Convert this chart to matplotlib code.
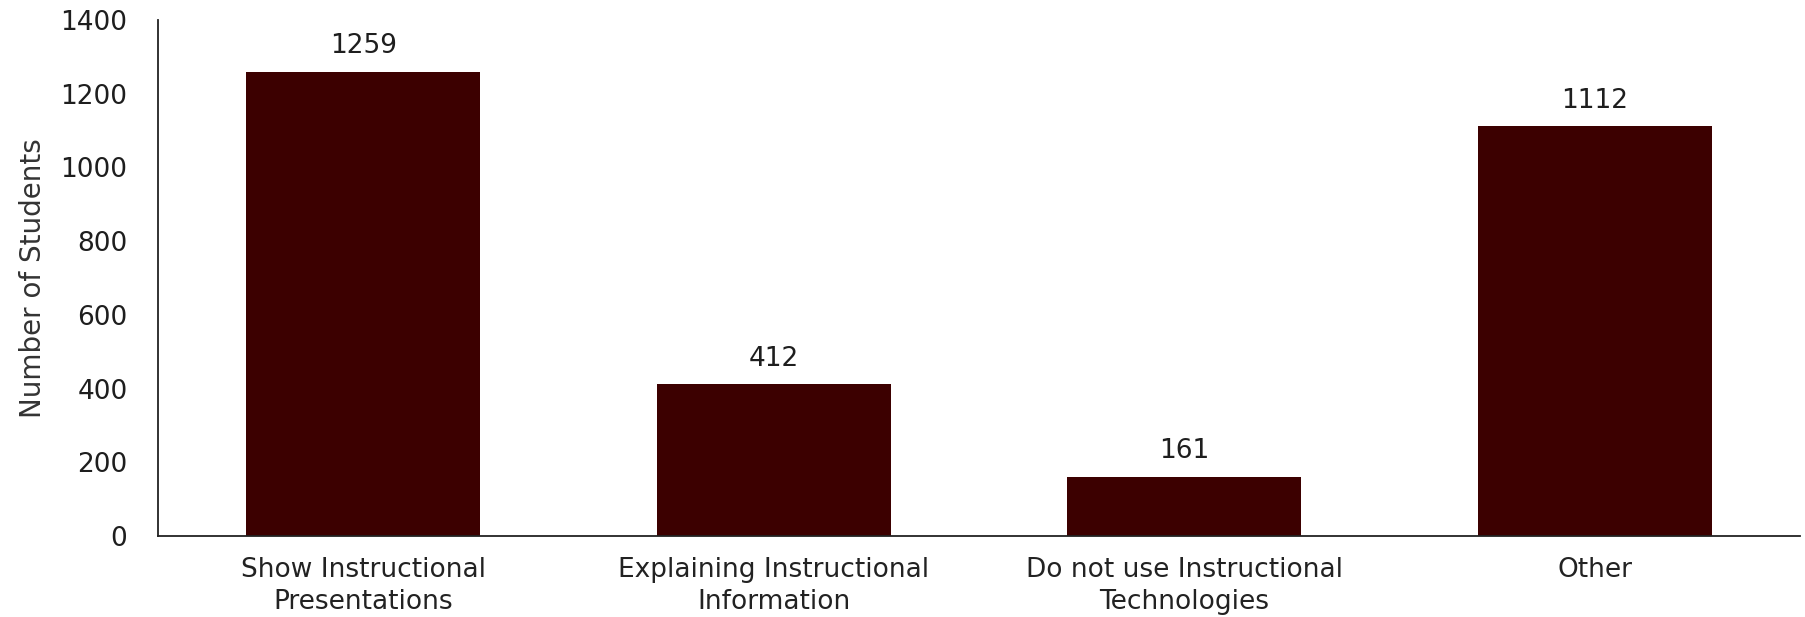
import matplotlib
matplotlib.use('Agg')
import matplotlib.pyplot as plt

categories = ['Show Instructional\nPresentations', 'Explaining Instructional\nInformation',
              'Do not use Instructional\nTechnologies', 'Other']
students = [1259, 412, 161, 1112]
yticks = [0, 200, 400, 600, 800, 1000, 1200, 1400]

font = ['DejaVu Sans']

fig = plt.figure(figsize=(18.06, 6.17), dpi=100)
ax = fig.add_axes([0.0875, 0.1313, 0.9092, 0.8363])

x = range(len(categories))
ax.bar(x, students, width=0.57, color='#3c0000')
for xi, v in zip(x, students):
    ax.annotate(str(v), (xi, v), xytext=(0, 9), textcoords='offset points',
                ha='center', va='bottom', fontsize=19, family=font, color='#1e1e1e')

ax.set_xlim(-0.5, 3.5)
ax.set_ylim(0, 1400)
ax.set_yticks(yticks)
ax.set_yticklabels([str(t) for t in yticks], fontsize=19, family=font, color='#1e1e1e')
ax.set_xticks(list(x))
ax.set_xticklabels(categories, fontsize=19, family=font, color='#222222', linespacing=1.3)
ax.tick_params(axis='both', length=0)
ax.tick_params(axis='y', pad=22)
ax.tick_params(axis='x', pad=15)
ax.set_ylabel('Number of Students', fontsize=20, family=font, color='#333333', labelpad=10)

for s in ['top', 'right']:
    ax.spines[s].set_visible(False)
for s in ['left', 'bottom']:
    ax.spines[s].set_color('#222222')
    ax.spines[s].set_linewidth(1.3)

fig.savefig('out.png', dpi=100)
